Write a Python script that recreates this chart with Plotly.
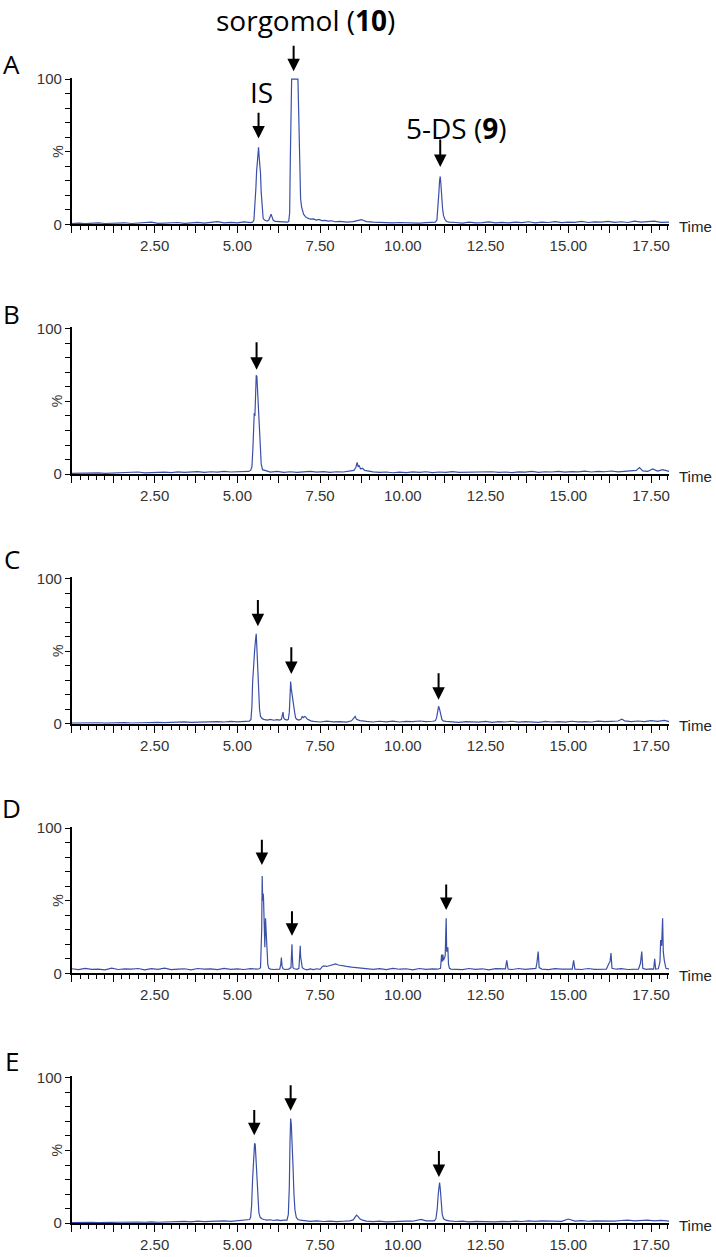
import plotly.graph_objects as go

# ---------------- data (time in min, intensity in %) ----------------
A_TIME = [0.0, 0.2, 0.4, 0.6, 0.8, 1.0, 1.2, 1.4, 1.6, 1.8, 2.0, 2.2, 2.4, 2.6, 2.8, 3.0, 3.2, 3.4, 3.6, 3.8, 4.0, 4.2, 4.4, 4.6, 4.8, 5.0, 5.2, 5.4,
          5.46, 5.50, 5.53, 5.56, 5.58, 5.60, 5.62, 5.64, 5.66, 5.68, 5.70, 5.72, 5.74, 5.76, 5.78, 5.82, 5.86, 5.90, 5.95, 5.98, 6.02, 6.05, 6.08, 6.14, 6.22, 6.30, 6.40, 6.50,
          6.55, 6.58, 6.60, 6.62, 6.64, 6.70, 6.76, 6.83, 6.85, 6.87, 6.89, 6.91, 6.94, 6.97, 7.00, 7.05, 7.10, 7.16, 7.22, 7.30, 7.38, 7.46, 7.55, 7.65, 7.75, 7.85, 7.95,
          8.1, 8.3, 8.5, 8.65, 8.75, 8.8, 8.9, 9.1, 9.3, 9.5, 9.7, 9.9, 10.1, 10.3, 10.5, 10.7, 10.9,
          10.98, 11.03, 11.06, 11.09, 11.11, 11.13, 11.15, 11.17, 11.20, 11.23, 11.27, 11.32, 11.4,
          11.6, 11.8, 12.0, 12.2, 12.4, 12.6, 12.8, 13.0, 13.2, 13.4, 13.6, 13.8, 14.0, 14.2, 14.4, 14.6, 14.8, 15.0, 15.2, 15.4, 15.6, 15.8, 16.0, 16.2, 16.4, 16.6, 16.8, 17.0, 17.2, 17.4, 17.6, 17.8, 18.05]
A_INT = [0.6, 0.9, 0.5, 0.8, 1.0, 0.6, 0.9, 0.7, 1.1, 0.6, 0.9, 0.8, 1.6, 0.7, 1.0, 0.8, 1.3, 0.7, 0.9, 1.4, 0.8, 1.2, 1.9, 1.0, 1.4, 1.1, 1.7, 1.2,
         1.5, 3.0, 12, 25, 36, 44, 50, 53, 46, 40, 35, 22, 13, 7, 4, 3, 2.5, 2.2, 3, 5, 7, 5, 3, 2, 1.8, 1.5, 1.3, 1.5,
         2, 8, 45, 85, 100, 100, 100, 100, 80, 60, 38, 18, 12, 9, 7, 5.5, 4.5, 4, 3.6, 3.8, 3, 3.4, 2.6, 2.8, 2.2, 2.5, 1.8,
         2.0, 1.6, 1.9, 2.4, 3.2, 2.8, 1.9, 1.5, 1.2, 1.4, 1.0, 1.3, 1.1, 1.4, 0.9, 1.2, 1.1,
         1.5, 3, 10, 22, 30, 33, 28, 20, 11, 6, 3.5, 2, 1.6,
         1.3, 0.9, 1.5, 1.0, 1.2, 1.7, 1.1, 1.4, 1.0, 1.6, 1.2, 1.8, 1.1, 1.5, 1.3, 1.9, 1.2, 1.6, 1.4, 2.0, 1.3, 1.7, 1.5, 2.1, 1.4, 1.8, 1.3, 2.2, 1.5, 1.9, 2.3, 1.4, 1.6]

B_TIME = [0.0, 0.2, 0.4, 0.6, 0.8, 1.0, 1.2, 1.4, 1.6, 1.8, 2.0, 2.2, 2.4, 2.6, 2.8, 3.0, 3.2, 3.4, 3.6, 3.8, 4.0, 4.2, 4.4, 4.6, 4.8, 5.0, 5.2,
          5.34, 5.40, 5.44, 5.47, 5.49, 5.51, 5.53, 5.55, 5.57, 5.59, 5.61, 5.63, 5.65, 5.67, 5.69, 5.72, 5.76, 5.82, 5.90,
          6.0, 6.2, 6.4, 6.6, 6.8, 7.0, 7.2, 7.4, 7.6, 7.8, 8.0, 8.2, 8.4,
          8.52, 8.58, 8.62, 8.65, 8.68, 8.72, 8.78, 8.85, 8.95,
          9.1, 9.3, 9.5, 9.7, 9.9, 10.1, 10.3, 10.5, 10.7, 10.9, 11.1, 11.3, 11.5, 11.7, 11.9, 12.1, 12.3, 12.5, 12.7, 12.9,
          13.1, 13.3, 13.5, 13.7, 13.9, 14.1, 14.3, 14.5, 14.7, 14.9, 15.1, 15.3, 15.5, 15.7, 15.9, 16.1, 16.3, 16.5, 16.7, 16.9,
          17.05, 17.15, 17.25, 17.4, 17.55, 17.7, 17.85, 18.05]
B_INT = [0.5, 0.7, 0.4, 0.6, 0.8, 0.5, 0.7, 0.9, 0.6, 1.0, 1.4, 0.8, 1.1, 0.9, 1.3, 1.0, 1.5, 1.1, 1.4, 1.7, 1.2, 1.6, 1.3, 1.8, 1.4, 1.7, 1.5,
         1.8, 2.5, 5, 18, 34, 42, 40, 60, 68, 67, 56, 55, 38, 29, 17, 7, 3, 2.5, 1.8,
         1.4, 1.8, 1.2, 1.6, 1.1, 1.5, 1.9, 1.3, 1.7, 1.2, 1.6, 1.4, 1.9,
         2.5, 4.5, 8, 5, 6, 3.5, 4, 2.5, 2,
         1.5, 1.1, 1.4, 0.9, 1.3, 1.0, 1.5, 1.2, 1.6, 1.0, 1.4, 1.1, 1.7, 1.2, 1.3, 1.0, 1.5, 1.1, 1.6, 1.2,
         1.4, 1.0, 1.5, 1.3, 1.8, 1.2, 1.6, 1.4, 1.9, 1.3, 1.7, 1.5, 2.0, 1.4, 1.8, 1.6, 2.1, 1.5, 1.9, 2.2,
         2.5, 4.5, 2.2, 1.8, 3.5, 2.0, 3.0, 1.8]

C_TIME = [0.0, 0.2, 0.4, 0.6, 0.8, 1.0, 1.2, 1.4, 1.6, 1.8, 2.0, 2.2, 2.4, 2.6, 2.8, 3.0, 3.2, 3.4, 3.6, 3.8, 4.0, 4.2, 4.4, 4.6, 4.8, 5.0, 5.2,
          5.36, 5.41, 5.44, 5.46, 5.48, 5.50, 5.52, 5.55, 5.57, 5.59, 5.61, 5.63, 5.65, 5.67, 5.70, 5.75, 5.80, 5.90, 6.0, 6.1, 6.2, 6.28,
          6.33, 6.36, 6.38, 6.40, 6.44, 6.50, 6.54, 6.57, 6.59, 6.61, 6.63, 6.65, 6.67, 6.70, 6.73, 6.76, 6.80, 6.86, 6.92, 6.96, 6.99, 7.03, 7.07, 7.11, 7.16, 7.22,
          7.3, 7.5, 7.7, 7.9, 8.1, 8.3, 8.45, 8.52, 8.56, 8.6, 8.7, 8.9, 9.1, 9.3, 9.5, 9.7, 9.9, 10.1, 10.3, 10.5, 10.7, 10.9,
          10.98, 11.02, 11.05, 11.08, 11.11, 11.14, 11.18, 11.22, 11.3,
          11.5, 11.7, 11.9, 12.1, 12.3, 12.5, 12.7, 12.9, 13.1, 13.3, 13.5, 13.7, 13.9, 14.1, 14.3, 14.5, 14.7, 14.9, 15.1, 15.3, 15.5, 15.7, 15.9, 16.1, 16.3, 16.5,
          16.62, 16.7, 16.9, 17.1, 17.3, 17.5, 17.7, 17.9, 18.05]
C_INT = [0.4, 0.6, 0.3, 0.5, 0.7, 0.4, 0.6, 0.5, 0.8, 0.5, 0.7, 0.9, 0.6, 1.0, 0.8, 1.1, 0.9, 1.3, 1.0, 1.2, 1.4, 1.1, 1.5, 1.2, 1.6, 1.3, 1.7,
         1.8, 3, 12, 28, 38, 44, 50, 58, 62, 52, 40, 28, 18, 10, 5, 3.5, 3, 2.5, 3, 2.4, 2.8, 2.5,
         3, 7, 8, 4, 3, 2.5, 3, 8, 20, 29, 24, 20, 18, 13, 8, 4, 3, 2.5, 3, 5, 4.2, 5, 4.5, 3.2, 2.4, 2,
         1.6, 1.2, 1.8, 1.3, 1.5, 1.1, 2, 4.5, 5, 3, 2.2, 1.6, 1.2, 1.7, 1.3, 1.8, 1.2, 1.6, 1.4, 1.9, 1.5, 1.7,
         2, 4, 9, 12, 10, 6, 3, 2, 1.6,
         1.3, 1.0, 1.5, 1.2, 1.1, 1.6, 1.0, 1.4, 1.2, 1.7, 1.1, 1.5, 1.3, 1.0, 1.6, 1.2, 1.4, 1.1, 1.7, 1.3, 1.5, 1.2, 1.8, 1.4, 1.6, 1.9,
         3.2, 2.0, 1.5, 1.9, 1.4, 2.1, 1.6, 2.3, 1.5]

D_TIME = [0.0, 0.2, 0.4, 0.6, 0.8, 1.0, 1.2, 1.4, 1.6, 1.8, 2.0, 2.2, 2.4, 2.6, 2.8, 3.0, 3.2, 3.4, 3.6, 3.8, 4.0, 4.2, 4.4, 4.6, 4.8, 5.0, 5.2, 5.4, 5.6,
          5.66, 5.70, 5.715, 5.725, 5.735, 5.75, 5.765, 5.78, 5.79, 5.81, 5.83, 5.85, 5.865, 5.88, 5.90, 5.92, 5.95, 6.0, 6.1, 6.2,
          6.28, 6.31, 6.33, 6.35, 6.38, 6.45, 6.55, 6.62, 6.64, 6.65, 6.66, 6.68, 6.72, 6.8, 6.86, 6.88, 6.90, 6.91, 6.93, 6.96, 7.02, 7.1, 7.2, 7.3, 7.4, 7.5,
          7.56, 7.6, 7.7, 7.8, 7.9, 7.97, 8.05, 8.15, 8.3, 8.45, 8.6, 8.75, 8.9,
          9.1, 9.3, 9.5, 9.7, 9.9, 10.1, 10.3, 10.5, 10.7, 10.9, 11.05,
          11.14, 11.17, 11.19, 11.21, 11.23, 11.25, 11.28, 11.30, 11.31, 11.325, 11.34, 11.36, 11.38, 11.41, 11.45,
          11.6, 11.8, 12.0, 12.2, 12.4, 12.6, 12.8, 13.0, 13.1, 13.14,
          13.18, 13.3, 13.5, 13.7, 13.9, 14.02, 14.05, 14.09, 14.12, 14.2,
          14.4, 14.6, 14.8, 15.0, 15.12, 15.16, 15.2, 15.4, 15.6, 15.8,
          16.0, 16.15, 16.23, 16.26, 16.29, 16.32, 16.45, 16.6, 16.8, 17.0,
          17.12, 17.18, 17.22, 17.25, 17.35, 17.5, 17.58, 17.61, 17.64, 17.72,
          17.77, 17.79, 17.82, 17.85, 17.87, 17.9, 17.95, 18.05]
D_INT = [3.2, 2.6, 3.5, 2.8, 3.0, 2.4, 3.6, 2.7, 3.1, 2.9, 3.4, 2.5, 3.3, 2.8, 3.7, 2.6, 3.0, 3.2, 2.5, 3.4, 2.9, 3.1, 2.6, 3.5, 2.8, 3.2, 2.7, 3.3, 3.0,
         3.2, 4, 18, 11, 30, 67, 50, 55, 52, 20, 18, 38, 30, 25, 10, 6, 3.5, 3, 2.7, 3.1,
         3, 6, 11, 5, 3.2, 2.7, 3, 4, 12, 20, 12, 4, 3.2, 2.8, 3.5, 9, 19, 12, 8, 4, 3, 2.5, 3.1, 2.6, 3.2, 2.8,
         4.5, 5.2, 4.8, 5.6, 6.2, 6.5, 5.8, 5.2, 4.8, 4.3, 4.0, 3.6, 3.2,
         2.8, 3.3, 2.6, 3.5, 2.9, 3.2, 2.5, 3.4, 2.8, 3.1, 2.9,
         3.5, 13, 8, 13, 9, 10, 12, 30, 38, 15, 17, 18, 6, 3.5, 3,
         3.0, 2.6, 3.4, 2.8, 3.2, 2.5, 3.3, 2.9, 3.2, 9,
         3.0, 2.7, 3.4, 2.8, 3.1, 3.5, 7, 15, 4, 3.0,
         2.6, 3.3, 2.9, 3.2, 3.0, 9, 3.0, 2.7, 3.4, 2.8,
         3.1, 3.0, 7, 8, 14, 3.5, 2.9, 3.3, 2.7, 3.2,
         3.0, 7, 15, 3.5, 2.8, 3.1, 3.0, 10, 3.0, 3.2,
         8, 23, 19, 38, 15, 9, 3.5, 3.0]

E_TIME = [0.0, 0.2, 0.4, 0.6, 0.8, 1.0, 1.2, 1.4, 1.6, 1.8, 2.0, 2.2, 2.4, 2.6, 2.8, 3.0, 3.2, 3.4, 3.6, 3.8, 4.0, 4.2, 4.4, 4.6, 4.8, 5.0, 5.2,
          5.33, 5.37, 5.40, 5.43, 5.46, 5.49, 5.52, 5.54, 5.56, 5.59, 5.62, 5.65, 5.69, 5.74, 5.80, 5.9, 6.0, 6.1, 6.2, 6.3, 6.4, 6.47,
          6.50, 6.54, 6.57, 6.59, 6.61, 6.63, 6.65, 6.68, 6.71, 6.74, 6.78, 6.83, 6.9, 7.0,
          7.2, 7.4, 7.6, 7.8, 8.0, 8.2, 8.4, 8.5, 8.55, 8.6, 8.65, 8.7, 8.78, 8.9, 9.1, 9.3, 9.5, 9.7, 9.9, 10.1, 10.3, 10.45, 10.55, 10.7, 10.85,
          10.95, 11.0, 11.04, 11.07, 11.09, 11.11, 11.13, 11.16, 11.19, 11.23, 11.3, 11.4,
          11.6, 11.8, 12.0, 12.2, 12.4, 12.6, 12.8, 13.0, 13.2, 13.4, 13.6, 13.8, 14.0, 14.2, 14.4, 14.6, 14.8, 15.0, 15.2, 15.4, 15.6, 15.8, 16.0, 16.2, 16.4, 16.6, 16.8, 17.0, 17.2, 17.4, 17.6, 17.8, 18.05]
E_INT = [0.4, 0.6, 0.3, 0.5, 0.4, 0.7, 0.5, 0.6, 0.8, 0.5, 0.7, 0.6, 0.9, 0.6, 0.8, 1.0, 0.7, 1.2, 0.9, 1.4, 1.0, 1.3, 1.1, 1.5, 1.2, 1.6, 1.9,
         2.0, 2.5, 4, 12, 30, 48, 55, 54, 45, 28, 14, 7, 4, 3, 2.5, 2, 2.3, 1.8, 2.2, 1.7, 2.0, 1.8,
         2, 6, 25, 55, 72, 68, 60, 40, 20, 9, 4, 2.5, 2, 1.8,
         1.2, 1.6, 1.1, 1.4, 1.0, 1.3, 1.5, 2.2, 4, 5.5, 4.5, 3, 2, 1.4, 1.0, 1.3, 0.9, 1.2, 1.0, 1.4, 1.3, 2.3, 2.6, 1.5, 1.3,
         1.6, 3, 10, 20, 27, 28, 24, 14, 6, 3, 2, 1.5,
         1.1, 1.4, 0.9, 1.2, 1.0, 1.3, 0.8, 1.2, 1.0, 1.4, 1.1, 1.5, 1.2, 1.6, 1.3, 1.5, 1.2, 2.8, 1.4, 1.7, 1.3, 1.6, 1.5, 1.9, 1.4, 1.8, 2.0, 1.5, 1.7, 2.1, 1.6, 1.9, 1.4]

# arrows: time, level of arrow tip, level of arrow tail (in % of each panel)
A_ARROW_T = [5.64, 6.70, 11.13]
A_ARROW_HEAD = [59.2, 105.4, 39.5]
A_ARROW_TAIL = [77.6, 123.8, 59.2]
B_ARROW_T = [5.58]
B_ARROW_HEAD = [71.9]
B_ARROW_TAIL = [91.6]
C_ARROW_T = [5.62, 6.63, 11.08]
C_ARROW_HEAD = [67.1, 34.3, 16.6]
C_ARROW_TAIL = [86.0, 53.5, 35.6]
D_ARROW_T = [5.74, 6.65, 11.31]
D_ARROW_HEAD = [74.7, 25.9, 43.6]
D_ARROW_TAIL = [92.8, 43.6, 62.0]
E_ARROW_T = [5.51, 6.61, 11.09]
E_ARROW_HEAD = [60.5, 77.3, 31.8]
E_ARROW_TAIL = [78.7, 95.7, 50.4]

PANEL_LETTERS = ["A", "B", "C", "D", "E"]
COMPOUND_LABELS = ["IS", "sorgomol (<b>10</b>)", "5-DS (<b>9</b>)"]
COMPOUND_LABEL_T = [5.73, 7.06, 11.62]
COMPOUND_LABEL_LEVEL = [90.8, 140.5, 66.3]

X_TICK_LABELS = ["", "", "2.50", "", "5.00", "", "7.50", "", "10.00", "", "12.50", "", "15.00", "", "17.50"]
Y_TICK_LABELS = ["0", "", "", "", "", "", "", "", "", "", "100"]

# ---------------- layout constants ----------------
W, H = 716, 1257
PLOT_LEFT, PLOT_RIGHT = 72, 670
PX_PER_MIN = 33.14
PX_PER_PCT = 1.47
Y_TOP = 101
ZERO_PX = [220.0, 472.7, 725.4, 978.1, 1230.8]
LETTER_PX = [57.5, 311.0, 558.5, 811.0, 1067.0]
LINE_COLOR = "#3a4fa8"
TICK_FONT = dict(family="Liberation Sans, Arial, sans-serif", size=15, color="#333333")
LABEL_FONT = dict(family="Open Sans, sans-serif", size=28, color="black")
LETTER_FONT = dict(family="Open Sans, sans-serif", size=26, color="black")

X_MAX = (PLOT_RIGHT - PLOT_LEFT) / PX_PER_MIN


def ypaper(i, level):
    return 1 - (ZERO_PX[i] - level * PX_PER_PCT) / H


panels = [
    (A_TIME, A_INT, A_ARROW_T, A_ARROW_HEAD, A_ARROW_TAIL),
    (B_TIME, B_INT, B_ARROW_T, B_ARROW_HEAD, B_ARROW_TAIL),
    (C_TIME, C_INT, C_ARROW_T, C_ARROW_HEAD, C_ARROW_TAIL),
    (D_TIME, D_INT, D_ARROW_T, D_ARROW_HEAD, D_ARROW_TAIL),
    (E_TIME, E_INT, E_ARROW_T, E_ARROW_HEAD, E_ARROW_TAIL),
]

fig = go.Figure()
annotations = []
layout_axes = {}

for i, (tt, vv, at, ah, atl) in enumerate(panels):
    assert len(tt) == len(vv), (PANEL_LETTERS[i], len(tt), len(vv))
    n = i + 1
    xid = "x" if n == 1 else f"x{n}"
    yid = "y" if n == 1 else f"y{n}"
    fig.add_trace(go.Scatter(x=tt, y=vv, mode="lines", xaxis=xid, yaxis=yid,
                             line=dict(color=LINE_COLOR, width=1.2), showlegend=False,
                             hoverinfo="skip"))
    y0 = ZERO_PX[i]
    dom = [1 - y0 / H, 1 - (y0 - Y_TOP * PX_PER_PCT) / H]
    layout_axes["xaxis" if n == 1 else f"xaxis{n}"] = dict(
        domain=[PLOT_LEFT / W, PLOT_RIGHT / W], range=[0, X_MAX], anchor=yid,
        showline=True, linecolor="black", linewidth=2, showgrid=False, zeroline=False,
        ticks="outside", ticklen=7, tickwidth=1, tickcolor="black",
        tickvals=[1.25 * k for k in range(len(X_TICK_LABELS))], ticktext=X_TICK_LABELS,
        tickfont=TICK_FONT,
        minor=dict(dtick=0.25, tick0=0, ticks="outside", ticklen=4, tickwidth=1, tickcolor="black"),
    )
    layout_axes["yaxis" if n == 1 else f"yaxis{n}"] = dict(
        domain=dom, range=[0, Y_TOP], anchor=xid,
        showline=True, linecolor="black", linewidth=2, showgrid=False, zeroline=False,
        ticks="outside", ticklen=5, tickwidth=1, tickcolor="black",
        tickvals=[10 * k for k in range(len(Y_TICK_LABELS))], ticktext=Y_TICK_LABELS,
        tickfont=TICK_FONT,
    )
    # panel letter
    annotations.append(dict(text=PANEL_LETTERS[i], xref="paper", yref="paper",
                            x=12 / W, y=1 - LETTER_PX[i] / H, xanchor="center", yanchor="middle",
                            showarrow=False, font=LETTER_FONT))
    # % label
    annotations.append(dict(text="%", xref="paper", yref="paper", x=58 / W, y=ypaper(i, 50),
                            xanchor="center", yanchor="middle", textangle=-90, showarrow=False,
                            font=dict(family=TICK_FONT["family"], size=14, color="#333333")))
    # Time label
    annotations.append(dict(text="Time", xref="paper", yref="paper", x=(PLOT_RIGHT + 8) / W,
                            y=ypaper(i, 0) - 2 / H, xanchor="left", yanchor="middle",
                            showarrow=False,
                            font=dict(family=TICK_FONT["family"], size=15, color="#222222")))
    # arrows
    for t, h, tl in zip(at, ah, atl):
        annotations.append(dict(text="", xref=xid, yref="paper", x=t, y=ypaper(i, h),
                                axref="pixel", ayref="pixel", ax=0, ay=-(tl - h) * PX_PER_PCT,
                                showarrow=True, arrowhead=2, arrowsize=1.25, arrowwidth=2,
                                arrowcolor="black", standoff=0))

# compound labels in panel A
for lab, t, lev in zip(COMPOUND_LABELS, COMPOUND_LABEL_T, COMPOUND_LABEL_LEVEL):
    annotations.append(dict(text=lab, xref="x", yref="paper", x=t, y=ypaper(0, lev),
                            xanchor="center", yanchor="middle", showarrow=False, font=LABEL_FONT))

fig.update_layout(
    width=W, height=H, autosize=False,
    margin=dict(l=0, r=0, t=0, b=0),
    paper_bgcolor="white", plot_bgcolor="white",
    annotations=annotations,
    **layout_axes,
)

fig.write_html("out.html", config={"displayModeBar": False},
               post_script="document.body.style.margin='0';document.body.style.padding='0';"
                           "document.documentElement.style.overflow='hidden';")
